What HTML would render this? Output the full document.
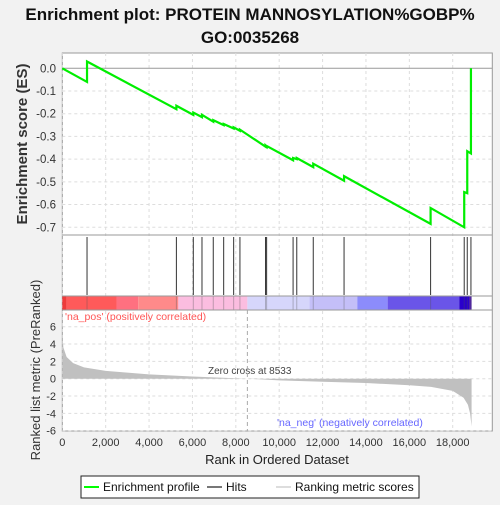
<!DOCTYPE html>
<html><head><meta charset="utf-8"><style>
body{margin:0;background:#f2f2f2;font-family:"Liberation Sans",sans-serif}
svg text{font-family:"Liberation Sans",sans-serif}
</style></head><body>
<svg id="c" width="500" height="500" xmlns="http://www.w3.org/2000/svg">
<rect width="500" height="500" fill="#f2f2f2"/>
<text x="250" y="20" text-anchor="middle" font-size="17" font-weight="bold" fill="#111">Enrichment plot: PROTEIN MANNOSYLATION%GOBP%</text>
<text x="250" y="43" text-anchor="middle" font-size="17" font-weight="bold" fill="#111">GO:0035268</text>
<rect x="62.3" y="53" width="430" height="378" fill="#fff" stroke="#999"/>
<g id="grid"></g><g id="bars"></g><g id="hits"></g><g id="mark"></g>
<line x1="62.3" x2="492.3" y1="235" y2="235" stroke="#999"/>
<line x1="62.3" x2="492.3" y1="296" y2="296" stroke="#999"/>
<line x1="62.3" x2="492.3" y1="310" y2="310" stroke="#999"/>
<text transform="translate(27,144) rotate(-90)" text-anchor="middle" font-size="15" font-weight="bold" fill="#333">Enrichment score (ES)</text>
<text transform="translate(40,370) rotate(-90)" text-anchor="middle" font-size="13" fill="#333">Ranked list metric (PreRanked)</text>
<text x="277" y="464" text-anchor="middle" font-size="13" fill="#222">Rank in Ordered Dataset</text>
<text x="65" y="320" font-size="10.5" fill="#f55">'na_pos' (positively correlated)</text>
<text x="277" y="426" font-size="10.5" fill="#66f">'na_neg' (negatively correlated)</text>
<text x="208" y="374" font-size="10" fill="#444">Zero cross at 8533</text>
<g>
<rect x="81" y="476" width="338" height="22" fill="#fff" stroke="#222"/>
<line x1="84" x2="99" y1="487" y2="487" stroke="#0f0" stroke-width="2"/>
<text x="103" y="491" font-size="12" fill="#111">Enrichment profile</text>
<line x1="207" x2="222" y1="487" y2="487" stroke="#777" stroke-width="2"/>
<text x="226" y="491" font-size="12" fill="#111">Hits</text>
<line x1="276" x2="291" y1="487" y2="487" stroke="#ddd" stroke-width="2"/>
<text x="295" y="491" font-size="12" fill="#111">Ranking metric scores</text>
</g>
</svg>
<script>
const N = 18870;
const xTicks = [0,2000,4000,6000,8000,10000,12000,14000,16000,18000];
const esTicks = [0,-0.1,-0.2,-0.3,-0.4,-0.5,-0.6,-0.7];
const metricTicks = [6,4,2,0,-2,-4,-6];
const hitRanks = [1140,5260,6040,6440,6960,7440,7900,8190,9370,9420,10640,10810,11570,12990,16980,18530,18670,18840];
const esBefore = [-0.06,-0.18,-0.205,-0.215,-0.235,-0.25,-0.265,-0.275,-0.345,-0.345,-0.405,-0.40,-0.435,-0.495,-0.685,-0.70,-0.55,-0.375];
const esAfter = [0.03,-0.165,-0.195,-0.205,-0.228,-0.245,-0.26,-0.27,-0.34,-0.342,-0.395,-0.395,-0.42,-0.475,-0.615,-0.545,-0.365,0.0];
const metricRanks = [0,50,200,500,1000,2000,3000,4000,6000,8533,10000,12000,14000,16000,17000,18000,18500,18700,18800,18870];
const metricVals = [5.3,3.6,2.5,1.8,1.3,0.9,0.7,0.5,0.25,0,-0.2,-0.35,-0.5,-0.75,-0.95,-1.4,-2.2,-3,-4,-5.5];
const bandEnds = [200,2500,3500,5350,8533,11400,13600,15000,18300,18750,18870];
const bandColors = ['#ee3b3b','#ff5a5a','#ff7080','#ff8a8a','#fbbde0','#d6d6fb','#c4bff8','#8c8cfb','#6a55e8','#2a00cc','#5020b0'];
const X0=62.3, XW=430;
const x = r => X0 + r/1000*21.69;
const yES = v => 68.3 - v/0.1*22.71;
const yM = v => 378.7 - v/2*17.33;
const NS='http://www.w3.org/2000/svg';
function mk(t,a,p){const e=document.createElementNS(NS,t);for(const k in a)e.setAttribute(k,a[k]);p.appendChild(e);return e;}
const svg=document.getElementById('c'), grid=document.getElementById('grid');
xTicks.forEach(t=>{
  const l=mk('line',{x1:x(t),x2:x(t),y1:53,y2:431,stroke:'#ddd','stroke-dasharray':'3,3'},grid);
  
  
  const tx=mk('text',{x:x(t),y:446,'text-anchor':'middle','font-size':11,fill:'#333'},svg);
  tx.textContent=t.toLocaleString('en-US');
  
  
});
esTicks.forEach(t=>{
  mk('line',{x1:X0,x2:X0+XW,y1:yES(t),y2:yES(t),stroke:t===0?'#999':'#ddd','stroke-dasharray':t===0?'':'3,3'},grid);
  const tx=mk('text',{x:56,y:yES(t)+4,'text-anchor':'end','font-size':11.5,fill:'#333'},svg);
  tx.textContent=t.toFixed(1);
  
  
});
metricTicks.forEach(t=>{
  mk('line',{x1:X0,x2:X0+XW,y1:yM(t),y2:yM(t),stroke:'#ddd','stroke-dasharray':'3,3'},grid);
  const tx=mk('text',{x:56,y:yM(t)+4,'text-anchor':'end','font-size':11,fill:'#333'},svg);
  tx.textContent=t;
  
  
});
// color bands
let prev=0;
bandEnds.forEach((e,i)=>{
  const r=mk('rect',{x:x(prev),y:296.5,width:x(e)-x(prev),height:13,fill:bandColors[i]},svg);
  
  
  prev=e;
});
// metric area
let d='M'+x(0)+','+yM(0);
metricRanks.forEach((r,i)=>{d+=' L'+x(r)+','+yM(metricVals[i]);});
d+=' L'+x(N)+','+yM(0)+' Z';
const area=mk('path',{d:d,fill:'#c0c0c0'},document.getElementById('bars'));


const zc=mk('line',{x1:x(8533),x2:x(8533),y1:310,y2:431,stroke:'#aaa','stroke-dasharray':'4,3'},svg);


// hits
hitRanks.forEach(r=>{
  const l=mk('line',{x1:x(r),x2:x(r),y1:237,y2:295,stroke:'#333','stroke-width':1},document.getElementById('hits'));
  
  
  mk('line',{x1:x(r),x2:x(r),y1:296.5,y2:309.5,stroke:'rgba(80,80,80,0.35)','stroke-width':1},svg);
});
// ES curve
let p='M'+x(0)+','+yES(0);
hitRanks.forEach((r,i)=>{p+=' L'+x(r)+','+yES(esBefore[i])+' L'+x(r)+','+yES(esAfter[i]);});
const es=mk('path',{d:p,fill:'none',stroke:'#00ee00','stroke-width':2.2},document.getElementById('mark'));


</script>
</body></html>
